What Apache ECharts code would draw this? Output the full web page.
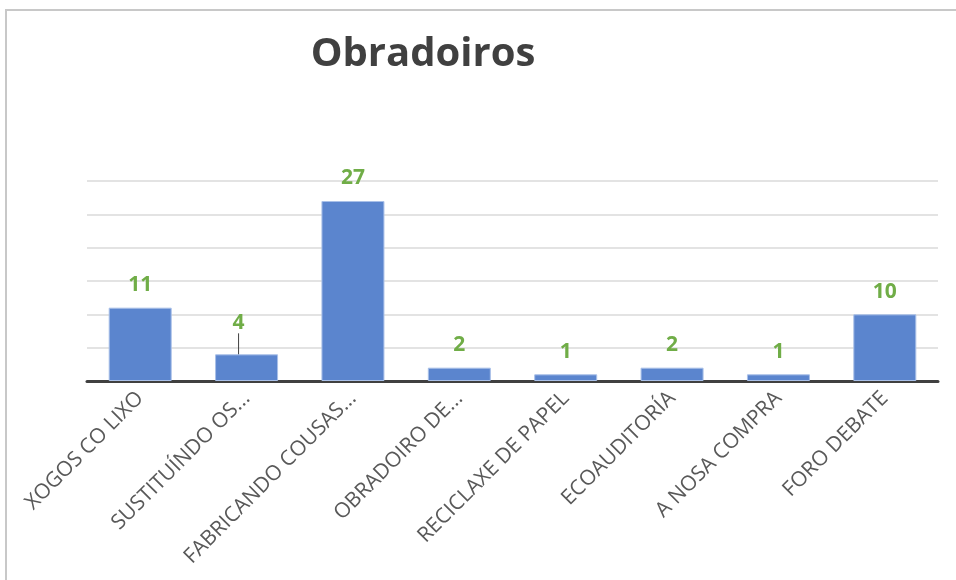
<!DOCTYPE html>
<html>
<head>
<meta charset="utf-8">
<script src="https://cdn.jsdelivr.net/npm/echarts@6/dist/echarts.min.js"></script>
<style>
  html, body { margin: 0; padding: 0; background: #fff; }
  #chart { width: 956px; height: 580px; }
</style>
</head>
<body>
<div id="chart"></div>
<script>
// datos do gráfico
var categorias = [
  "XOGOS CO LIXO",
  "SUSTITUÍNDO OS...",
  "FABRICANDO COUSAS...",
  "OBRADOIRO DE...",
  "RECICLAXE DE PAPEL",
  "ECOAUDITORÍA",
  "A NOSA COMPRA",
  "FORO DEBATE"
];
var valores = [11, 4, 27, 2, 1, 2, 1, 10];
var yMax = 30;
var yStep = 5;

var chart = echarts.init(document.getElementById("chart"));

// só a barra do "4" leva liña guía
var barData = valores.map(function (v, i) {
  if (i === 1) {
    return { value: v, labelLine: { show: true } };
  }
  return v;
});

var option = {
  animation: false,
  title: {
    text: "Obradoiros",
    left: 418,
    top: 30,
    textAlign: "center",
    textStyle: {
      fontFamily: "Open Sans",
      fontWeight: "bold",
      fontSize: 40,
      color: "#404040",
    },
  },
  // marco gris arredor do gráfico
  graphic: [
    {
      type: "rect",
      shape: { x: 6, y: 10, width: 980, height: 600 },
      style: { fill: null, stroke: "#C8C8C8", lineWidth: 2 },
      silent: true,
    },
  ],
  grid: {
    left: 87,
    right: 18,
    top: 181,
    bottom: 199,
  },
  xAxis: {
    type: "category",
    data: categorias,
    axisLine: {
      show: true,
      lineStyle: { color: "#404040", width: 3 },
    },
    axisTick: { show: false },
    axisLabel: {
      interval: 0,
      rotate: 45,
      margin: 14,
      color: "#595959",
      fontFamily: "Open Sans",
      fontSize: 21,
    },
  },
  yAxis: {
    type: "value",
    min: 0,
    max: yMax,
    interval: yStep,
    axisLine: { show: false },
    axisTick: { show: false },
    axisLabel: { show: false },
    splitLine: {
      show: true,
      lineStyle: { color: "#E3E3E3", width: 2 },
    },
  },
  series: [
    {
      type: "bar",
      data: barData,
      barWidth: 63,
      itemStyle: {
        color: "#5B85CE",
        borderColor: "#A9C0E8",
        borderWidth: 1,
      },
      label: {
        show: true,
        position: "top",
        distance: 12,
        color: "#70AD47",
        fontFamily: "Open Sans",
        fontWeight: "bold",
        fontSize: 21,
      },
      labelLine: {
        show: false,
        lineStyle: { color: "#404040", width: 1 },
      },
      labelLayout: function (params) {
        // a etiqueta do "4" está desprazada
        if (params.dataIndex === 1) {
          return { dx: -8, dy: -9 };
        }
        return {};
      },
    },
  ],
};

chart.setOption(option);
</script>
</body>
</html>
